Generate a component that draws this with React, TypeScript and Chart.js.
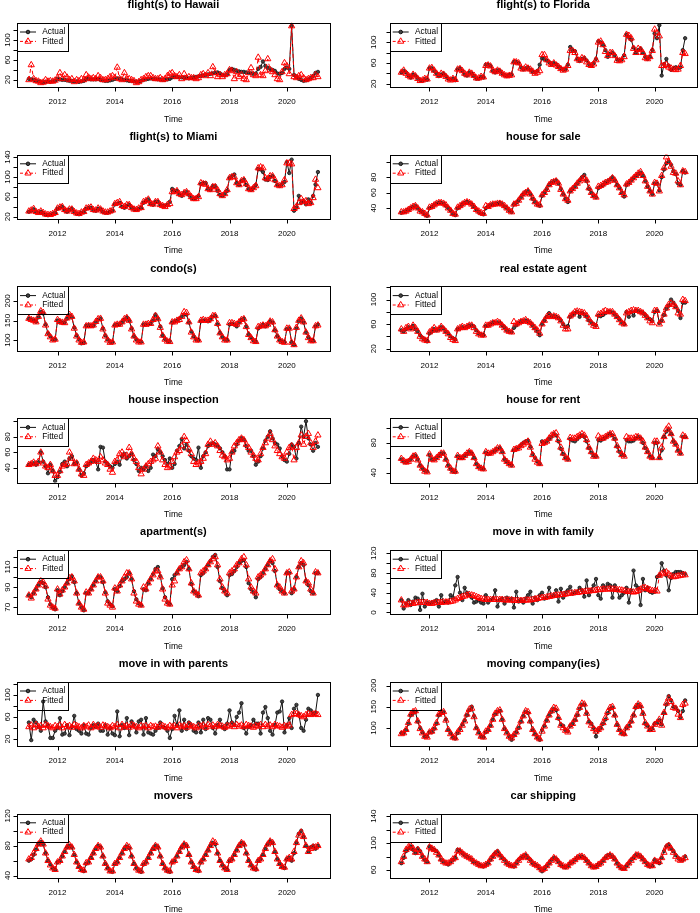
import React, { useEffect, useRef } from "react";
import { Chart, registerables } from "chart.js";
Chart.register(...registerables);

const FONT = '"Liberation Sans", Arial, Helvetica, sans-serif';

// monthly time index: Jan 2011 .. Feb 2021
const months: number[] = Array.from({ length: 122 }, (_, i) => 2011 + i / 12);
const xTicks = [2012, 2014, 2016, 2018, 2020];
const X_MIN = 2010.597;
const X_MAX = 2021.487;

const hawaiiActual = [
  22,21,20,18,17,16,15,16,17,16,17,18,
  22,21,20,20,19,18,18,17,17,16,17,18,
  22,22,21,21,21,22,20,19,18,18,19,20,
  22,23,22,21,20,19,18,18,17,16,17,18,
  20,21,22,23,22,22,21,21,20,20,21,22,
  25,26,26,25,25,24,24,23,24,25,26,27,
  28,29,30,31,32,33,34,35,33,30,29,31,
  40,42,40,38,37,36,36,35,34,33,32,33,
  42,46,57,48,44,42,40,38,33,32,34,42,
  45,42,128,30,26,22,20,18,19,21,24,28,
  34,36];
const hawaiiFitted = [
  20,50,22,18,17,14,15,20,17,18,17,19,
  24,34,22,30,25,20,22,16,20,18,22,20,
  30,25,22,24,22,28,24,20,20,22,26,28,
  24,45,22,20,34,22,22,20,18,14,16,20,
  22,26,28,28,24,22,22,24,20,22,28,32,
  34,28,26,30,22,32,24,26,24,24,22,24,
  30,32,28,34,28,46,34,26,30,26,30,32,
  40,38,22,36,26,30,22,20,34,44,30,28,
  65,30,28,38,62,40,36,30,22,20,36,54,
  48,32,128,26,24,28,30,24,20,22,24,24,
  30,26];

const floridaActual = [
  42,45,42,36,32,38,36,31,27,26,29,28,
  50,50,45,40,35,38,40,35,30,28,30,27,
  48,50,45,38,36,42,40,35,30,30,33,32,
  57,57,55,45,42,46,45,40,37,35,37,38,
  62,62,60,52,48,50,51,47,43,42,45,57,
  69,68,65,62,58,60,58,53,50,47,48,57,
  91,85,83,68,64,68,70,65,58,55,60,68,
  102,100,95,85,72,78,80,75,67,65,67,75,
  115,110,105,90,80,85,88,80,72,68,72,85,
  117,108,133,36,58,68,55,47,50,52,50,52,
  85,108];
const floridaFitted = [
  42,46,40,36,33,38,35,30,26,27,30,29,
  50,51,46,40,36,40,38,34,29,27,30,28,
  48,49,45,40,37,42,40,36,31,31,34,33,
  55,56,54,46,43,46,44,40,37,35,36,37,
  62,62,60,50,48,52,50,48,44,40,42,45,
  76,76,66,60,57,60,56,53,49,46,48,55,
  84,84,80,68,65,70,68,62,57,55,58,66,
  100,102,95,82,74,80,80,74,65,64,66,72,
  115,113,108,88,80,88,86,80,70,68,72,84,
  125,118,112,55,55,57,52,50,48,47,48,55,
  80,78];

const miamiActual = [
  30,32,35,30,28,30,27,24,23,24,26,27,
  36,38,40,33,30,34,36,30,26,25,28,29,
  36,38,38,33,32,36,35,30,28,28,30,32,
  45,46,48,40,38,42,44,38,35,34,36,38,
  48,52,55,46,44,50,50,44,42,42,44,50,
  76,72,72,65,62,68,70,64,58,56,58,62,
  86,88,88,76,74,82,82,72,64,62,66,72,
  98,102,105,88,84,92,95,84,76,74,78,84,
  116,115,110,95,94,100,102,92,84,82,86,90,
  130,108,135,32,38,62,48,52,45,55,48,62,
  85,110];
const miamiFitted = [
  31,33,36,30,28,31,28,25,24,24,26,28,
  37,39,40,34,31,35,35,30,27,26,29,30,
  37,38,39,34,33,37,35,31,29,29,31,33,
  46,48,50,42,40,44,44,38,35,34,37,38,
  50,52,55,46,45,50,50,44,42,40,44,46,
  70,70,72,66,64,68,70,66,60,56,56,60,
  88,86,85,76,74,80,80,74,66,62,66,74,
  98,100,100,88,84,92,94,86,76,74,78,82,
  118,120,118,98,96,102,102,94,84,82,84,94,
  128,128,126,36,40,48,56,50,52,46,48,58,
  95,78];

const saleActual = [
  34,35,36,38,40,42,43,40,37,35,32,30,
  40,42,44,46,47,47,46,43,40,37,33,31,
  40,42,45,47,48,47,45,42,38,35,33,32,
  40,42,44,45,45,46,47,45,42,40,37,35,
  45,47,50,54,58,61,62,58,52,48,45,43,
  56,60,65,70,73,75,76,72,65,58,52,48,
  62,65,68,72,76,80,83,75,65,60,56,54,
  66,68,70,73,75,77,80,76,70,66,60,55,
  70,73,76,79,82,84,86,82,75,68,62,58,
  72,72,63,80,90,98,100,96,88,84,72,70,
  88,86];
const saleFitted = [
  35,35,36,38,40,42,43,40,36,35,33,31,
  41,42,44,46,47,47,46,44,40,37,33,32,
  41,43,45,47,48,47,45,42,38,36,34,33,
  43,42,44,45,45,46,46,45,43,40,37,35,
  45,46,50,54,58,60,62,58,53,48,45,44,
  57,60,64,70,73,74,75,72,64,58,52,50,
  62,65,68,72,75,78,79,76,66,60,56,54,
  68,69,71,73,74,76,79,76,70,66,60,57,
  71,73,76,79,82,85,87,82,75,68,62,58,
  73,72,62,82,92,106,100,94,86,85,75,70,
  88,87];

const condoActual = [
  155,153,150,147,158,172,168,140,118,110,102,102,
  150,148,145,145,155,163,158,132,112,102,92,93,
  137,138,136,137,145,152,155,130,112,102,95,95,
  138,140,140,145,152,158,150,130,110,102,97,96,
  140,140,140,142,150,165,155,135,112,103,98,97,
  145,148,150,155,160,165,165,145,122,110,102,100,
  148,150,150,148,152,160,162,140,118,108,102,100,
  140,142,140,135,145,152,155,135,115,107,100,96,
  130,135,140,135,140,148,145,125,110,100,97,95,
  128,130,95,88,130,148,155,145,120,108,100,98,
  135,140];
const condoFitted = [
  155,152,150,146,160,174,170,138,116,108,100,102,
  152,147,145,144,156,165,160,130,110,100,94,95,
  136,137,136,138,147,154,155,128,110,100,94,95,
  138,140,140,146,154,157,150,128,110,100,95,95,
  140,140,142,142,152,162,154,132,112,102,97,96,
  146,146,150,152,160,172,170,146,120,108,100,100,
  150,152,150,150,154,162,162,142,118,108,100,100,
  144,144,142,140,146,152,154,134,114,106,98,96,
  134,136,138,136,140,148,146,126,110,100,96,94,
  130,130,94,88,132,150,156,146,120,106,98,98,
  136,138];

const agentActual = [
  50,48,52,55,53,57,52,48,42,38,35,32,
  45,48,52,50,52,55,53,48,45,40,37,35,
  52,53,55,54,56,58,58,56,50,45,43,42,
  57,58,60,63,62,63,62,58,55,50,48,47,
  54,58,62,65,65,66,65,62,58,53,48,42,
  60,66,72,78,73,73,72,70,66,60,55,57,
  72,75,78,80,72,78,76,72,66,63,60,58,
  74,73,75,78,80,80,79,76,72,68,63,60,
  80,72,80,74,82,81,80,78,75,70,68,65,
  80,82,62,66,75,85,90,100,95,88,82,70,
  95,95];
const agentFitted = [
  52,48,54,56,52,58,54,48,40,36,34,33,
  47,50,54,50,52,56,52,48,44,38,35,33,
  52,54,56,54,56,58,58,54,48,44,42,42,
  58,58,60,62,62,64,62,58,54,50,48,47,
  64,60,62,64,65,67,64,62,58,54,50,45,
  60,66,72,74,72,73,72,70,65,58,52,52,
  73,76,80,81,80,79,78,74,68,62,58,56,
  76,77,80,82,80,80,80,76,72,67,62,60,
  78,80,82,83,82,82,80,78,74,70,65,62,
  82,82,60,66,76,86,92,94,92,88,78,76,
  100,98];

const inspectActual = [
  44,45,46,44,47,60,48,42,33,44,36,23,
  28,35,45,48,42,52,55,45,47,38,30,33,
  42,45,48,50,48,38,67,66,48,45,42,40,
  45,48,44,55,58,52,55,58,50,45,36,40,
  38,42,36,40,57,55,64,60,55,50,45,52,
  40,45,62,68,77,65,70,62,55,52,50,66,
  40,55,60,68,70,72,70,68,65,60,55,38,
  38,60,62,70,75,78,76,68,62,62,55,44,
  48,55,65,75,80,87,78,72,70,65,55,50,
  48,58,70,67,52,72,93,80,100,78,70,62,
  72,67];
const inspectFitted = [
  44,45,47,45,48,60,46,42,40,44,36,30,
  30,36,42,44,45,60,52,45,46,38,32,30,
  44,46,48,52,50,48,54,50,46,44,38,34,
  48,50,58,60,54,56,66,58,52,48,40,32,
  38,42,45,48,50,52,68,60,50,44,40,42,
  48,54,60,62,68,80,75,64,58,48,44,46,
  48,52,58,70,74,70,72,68,62,56,54,50,
  52,60,68,72,76,78,76,70,66,60,56,52,
  50,58,66,72,78,84,76,68,62,58,54,52,
  60,66,68,50,66,72,82,70,80,84,72,66,
  74,82];

const rentActual = [
  58,55,54,56,58,62,63,58,50,46,43,42,
  64,58,58,60,63,66,66,58,50,45,42,41,
  62,60,60,63,65,68,66,60,52,48,46,45,
  67,65,66,68,70,72,73,68,58,55,52,50,
  70,72,74,77,80,82,83,75,65,60,55,52,
  82,80,82,85,88,92,90,82,72,65,60,58,
  85,83,82,85,88,90,88,82,73,67,63,62,
  84,83,85,87,90,92,90,85,75,68,64,63,
  84,82,82,83,86,88,86,80,73,68,62,60,
  80,80,60,70,88,95,98,92,82,78,70,66,
  88,88];
const rentFitted = [
  59,56,54,55,58,62,63,57,50,46,42,41,
  65,58,57,60,63,66,66,58,50,46,42,42,
  63,60,60,63,66,68,66,60,52,48,46,45,
  68,66,66,68,70,73,73,68,58,55,52,50,
  71,72,73,76,78,80,82,74,64,58,54,52,
  79,80,82,86,90,92,93,84,74,66,60,58,
  87,86,86,88,90,92,90,84,74,68,62,62,
  89,86,86,88,90,92,92,86,76,70,64,62,
  88,86,86,86,88,88,86,82,74,68,62,60,
  82,82,60,74,88,98,102,92,82,78,70,66,
  90,88];

const apartActual = [
  82,80,84,88,92,95,94,90,80,73,70,68,
  87,82,86,90,94,98,101,95,84,74,70,67,
  84,84,88,92,96,100,100,95,85,76,73,71,
  88,86,91,96,98,100,104,98,86,78,74,72,
  88,87,94,98,103,108,110,101,89,80,75,73,
  98,102,104,108,110,112,115,108,93,86,84,81,
  102,104,108,112,116,120,122,110,96,89,86,82,
  102,103,106,110,114,116,117,110,94,88,85,80,
  98,100,104,108,112,116,114,106,92,88,86,84,
  104,104,84,88,100,110,114,112,96,92,86,84,
  104,104];
const apartFitted = [
  82,79,84,88,92,96,95,91,78,72,70,69,
  88,83,87,90,94,99,100,96,84,74,70,68,
  85,84,88,92,96,100,100,96,84,74,72,70,
  89,86,92,96,100,104,104,98,84,76,73,72,
  90,88,94,98,102,106,106,100,88,78,74,73,
  92,96,104,108,110,115,117,108,94,86,84,82,
  104,106,108,112,115,118,120,112,98,90,86,84,
  104,106,108,112,114,118,120,112,98,90,86,84,
  100,102,104,108,112,116,118,108,92,90,86,84,
  104,105,86,88,100,110,116,114,96,94,88,84,
  105,104];

const familyActual = [
  25,8,18,25,15,22,30,28,5,38,12,20,
  18,20,22,25,12,35,20,22,20,35,30,55,
  72,40,25,50,40,35,30,20,22,25,20,18,
  35,20,25,28,45,12,25,28,18,30,25,28,
  10,42,22,25,20,28,35,42,18,30,25,35,
  40,28,30,50,32,35,45,22,48,30,40,45,
  52,38,40,42,50,45,32,65,35,45,55,68,
  35,28,55,50,58,55,30,55,45,30,35,40,
  50,20,45,85,55,50,15,68,45,50,42,40,
  42,72,75,100,85,75,45,70,78,82,82,82,
  80,78];
const familyFitted = [
  25,15,15,17,18,18,19,20,20,20,20,20,
  18,18,19,20,20,20,21,21,21,22,23,25,
  28,30,32,33,35,36,35,34,32,30,28,27,
  26,26,26,26,26,26,26,26,25,25,25,25,
  24,24,24,24,24,25,25,25,26,27,28,29,
  30,30,31,32,33,34,35,35,36,36,37,38,
  39,39,40,40,41,42,42,43,43,44,44,45,
  46,46,47,47,47,48,47,47,46,46,45,44,
  43,42,42,41,42,44,47,50,50,48,46,44,
  44,43,75,78,80,82,78,74,72,73,74,75,
  76,76];

const parentsActual = [
  50,18,55,50,42,35,88,52,45,22,22,35,
  40,58,28,30,45,27,42,62,38,35,30,45,
  30,28,40,45,42,48,35,35,45,28,40,30,
  27,70,25,45,40,58,27,52,45,32,52,55,
  28,58,32,30,28,35,40,50,42,40,35,22,
  38,62,45,72,35,55,38,50,45,35,32,50,
  32,55,38,58,55,40,30,45,55,42,38,48,
  72,50,45,60,68,85,40,30,42,45,55,48,
  48,30,68,78,58,35,28,45,68,70,88,32,
  45,58,40,75,82,65,40,35,55,75,72,65,
  68,100];
const parentsFitted = [
  42,45,40,46,42,44,40,46,44,42,40,44,
  42,45,40,46,42,44,41,46,44,42,40,44,
  42,45,40,46,42,44,41,45,44,42,40,44,
  42,46,40,46,42,44,41,46,44,42,40,44,
  42,44,40,44,42,43,41,45,44,42,40,44,
  42,44,40,45,42,44,41,46,44,42,40,44,
  43,45,41,46,43,45,42,46,44,43,41,44,
  43,46,42,46,43,45,42,46,44,43,41,44,
  43,46,42,46,43,45,42,46,44,43,41,44,
  43,45,64,66,66,64,62,60,64,66,64,65,
  66,64];

const movingActual = [
  88,88,95,110,130,135,138,115,100,90,80,80,
  90,90,98,110,130,135,138,120,95,88,78,75,
  88,98,108,118,130,142,150,128,100,90,80,78,
  90,95,105,120,132,138,140,120,98,90,80,72,
  82,90,100,115,128,138,135,115,95,85,77,72,
  95,105,118,130,138,145,142,122,108,105,95,92,
  105,110,118,130,145,155,155,135,115,110,100,80,
  95,100,110,120,135,145,148,130,108,95,88,85,
  100,105,115,130,148,155,150,135,110,105,95,98,
  110,112,118,108,135,155,175,165,150,148,140,125,
  140,165];
const movingFitted = [
  86,88,96,112,132,138,140,116,98,88,80,78,
  90,92,100,112,132,136,138,118,96,86,78,76,
  90,96,106,116,132,144,146,126,100,88,80,78,
  92,96,106,120,134,140,142,120,98,88,80,76,
  84,90,102,116,128,140,138,116,96,86,78,74,
  92,104,118,130,140,148,146,124,106,100,94,90,
  104,110,120,132,148,158,156,134,114,106,98,92,
  96,100,112,124,138,148,150,130,108,96,88,86,
  100,106,116,130,150,156,152,134,112,104,96,96,
  108,112,120,106,136,158,170,162,148,146,132,124,
  155,158];

const moversActual = [
  60,62,68,75,82,85,82,70,60,55,50,48,
  58,60,66,72,78,80,78,68,58,52,48,46,
  56,58,64,70,76,80,78,66,56,50,46,45,
  56,58,64,70,76,79,77,66,56,50,47,45,
  55,58,64,70,76,80,78,66,56,50,46,45,
  58,60,66,72,78,82,80,68,58,52,48,46,
  58,62,68,74,80,84,82,70,60,54,50,48,
  60,62,68,74,80,84,82,70,60,54,50,48,
  60,62,68,76,82,86,84,72,62,56,52,50,
  62,64,60,70,84,96,100,92,80,72,78,80,
  76,80];
const moversFitted = [
  62,64,70,76,82,86,82,70,60,54,50,48,
  58,60,66,72,78,81,78,68,58,52,48,47,
  57,58,64,70,76,80,78,66,56,50,46,46,
  56,58,64,70,76,80,78,66,56,50,47,46,
  56,58,64,70,76,80,78,66,56,50,47,46,
  58,60,66,72,78,82,80,68,58,52,48,47,
  58,62,68,74,80,86,84,70,60,54,50,48,
  60,62,68,74,80,84,82,70,60,54,50,49,
  60,62,68,76,82,86,84,72,62,56,52,51,
  62,64,62,72,84,94,98,92,80,72,76,78,
  78,80];

const carActual = [
  70,78,88,92,95,90,85,92,88,80,75,72,
  95,92,90,88,82,75,72,70,68,72,75,78,
  90,88,85,82,80,78,75,72,70,68,66,65,
  68,70,75,80,85,88,82,78,75,70,68,66,
  65,70,75,78,80,82,78,75,70,68,66,62,
  58,62,66,70,75,78,76,72,68,65,64,66,
  70,72,75,78,80,80,78,74,70,66,64,65,
  68,70,74,78,82,82,80,76,70,65,62,62,
  66,70,75,78,82,82,80,76,72,68,65,66,
  75,72,70,78,88,95,98,92,88,82,78,75,
  75,80];
const carFitted = [
  72,80,90,94,96,92,86,90,86,80,76,72,
  94,92,90,86,82,76,72,70,70,72,76,78,
  88,88,85,82,80,78,76,72,70,68,66,66,
  68,70,76,80,84,86,82,78,74,70,68,66,
  66,70,74,78,80,82,78,74,70,68,66,63,
  60,62,66,70,74,78,76,72,68,66,64,66,
  70,72,75,78,80,80,78,74,70,66,64,65,
  68,70,74,78,80,82,80,76,70,66,63,62,
  66,70,74,78,82,82,80,76,72,68,66,66,
  74,72,72,78,86,94,96,92,86,80,76,74,
  76,78];

const titles = [
  "flight(s) to Hawaii", "flight(s) to Florida",
  "flight(s) to Miami", "house for sale",
  "condo(s)", "real estate agent",
  "house inspection", "house for rent",
  "apartment(s)", "move in with family",
  "move in with parents", "moving company(ies)",
  "movers", "car shipping",
];
const actuals = [hawaiiActual, floridaActual, miamiActual, saleActual, condoActual, agentActual, inspectActual, rentActual, apartActual, familyActual, parentsActual, movingActual, moversActual, carActual];
const fitteds = [hawaiiFitted, floridaFitted, miamiFitted, saleFitted, condoFitted, agentFitted, inspectFitted, rentFitted, apartFitted, familyFitted, parentsFitted, movingFitted, moversFitted, carFitted];
const yRanges: [number, number][] = [
  [5.3, 134.7], [13.6, 137.8],
  [15.4, 145.3], [26, 109.4],
  [73, 237], [16.7, 121.6],
  [21, 104], [27, 113],
  [63, 127], [-4, 127],
  [7, 124], [57, 209],
  [36.8, 123.2], [48, 144],
];
const yTickSets = [
  [20, 40, 60, 80, 100, 120], [20, 40, 60, 80, 100, 120],
  [20, 40, 60, 80, 100, 120, 140], [40, 60, 80, 100],
  [100, 150, 200], [20, 40, 60, 80, 100, 120],
  [40, 60, 80, 100], [40, 60, 80, 100],
  [70, 80, 90, 100, 110, 120], [0, 20, 40, 60, 80, 100, 120],
  [20, 40, 60, 80, 100, 120], [100, 150, 200],
  [40, 60, 80, 100, 120], [60, 80, 100, 120, 140],
];
const yLabelSets = [
  [20, 60, 100], [20, 60, 100],
  [20, 60, 100, 140], [40, 60, 80],
  [100, 150, 200], [20, 60, 100],
  [40, 60, 80], [40, 80],
  [70, 90, 110], [0, 40, 80, 120],
  [20, 60, 100], [100, 150, 200],
  [40, 80, 120], [60, 100, 140],
];

const PANEL_W = 350;
const CANVAS_H = 134;
const ROW_PITCH = 131.8;
const FIRST_BOX_TOP = 22.7;
const BOX_H = 64.5;
const TRI_R = 3.6;
const COLS = [
  { left: 17.3, right: 329.5, labelOff: 10 },
  { left: 40, right: 346.5, labelOff: 16 },
];

function Panel({ idx }: { idx: number }) {
  const ref = useRef<HTMLCanvasElement | null>(null);
  const row = Math.floor(idx / 2);
  const col = idx % 2;
  const boxTop = FIRST_BOX_TOP + row * ROW_PITCH;
  const canvasTop = Math.floor(boxTop - 30);
  const padTop = boxTop - canvasTop;
  const c = COLS[col];

  useEffect(() => {
    const title = titles[idx];
    const yTicks = yTickSets[idx];
    const yLabels = yLabelSets[idx];
    const frame = {
      id: "rframe" + idx,
      afterDraw(chart: any) {
        const ctx = chart.ctx as CanvasRenderingContext2D;
        const a = chart.chartArea;
        const xs = chart.scales.x;
        const ys = chart.scales.y;
        ctx.save();
        ctx.strokeStyle = "#000";
        ctx.fillStyle = "#000";
        ctx.lineWidth = 1;
        ctx.setLineDash([]);
        const L = Math.round(a.left) + 0.5, T = Math.round(a.top) + 0.5;
        const R = Math.round(a.right) + 0.5, B = Math.round(a.bottom) + 0.5;
        ctx.strokeRect(L, T, R - L, B - T);
        ctx.beginPath();
        xTicks.forEach((v) => {
          const px = Math.round(xs.getPixelForValue(v)) + 0.5;
          ctx.moveTo(px, B);
          ctx.lineTo(px, B + 4);
        });
        yTicks.forEach((v) => {
          const py = Math.round(ys.getPixelForValue(v)) + 0.5;
          ctx.moveTo(L, py);
          ctx.lineTo(L - 4, py);
        });
        ctx.stroke();
        ctx.textAlign = "center";
        ctx.textBaseline = "middle";
        ctx.font = `8px ${FONT}`;
        xTicks.forEach((v) => ctx.fillText(String(v), xs.getPixelForValue(v), a.bottom + 14.7));
        yLabels.forEach((v) => {
          ctx.save();
          ctx.translate(a.left - c.labelOff, ys.getPixelForValue(v));
          ctx.rotate(-Math.PI / 2);
          ctx.fillText(String(v), 0, 0);
          ctx.restore();
        });
        ctx.font = `8.5px ${FONT}`;
        ctx.fillText("Time", (a.left + a.right) / 2, a.bottom + 32);
        ctx.font = `bold 11px ${FONT}`;
        ctx.fillText(title, (a.left + a.right) / 2, a.top - 17.7);
        // legend
        const lw = 51, lh = 28;
        ctx.strokeRect(L, T, lw, lh);
        const y1 = a.top + 9.3, y2 = a.top + 18.7;
        const x0 = a.left + 2.7, x1 = a.left + 18.7, xm = a.left + 10.7;
        ctx.beginPath();
        ctx.strokeStyle = "#111";
        ctx.moveTo(x0, y1);
        ctx.lineTo(x1, y1);
        ctx.stroke();
        ctx.beginPath();
        ctx.arc(xm, y1, 1.8, 0, Math.PI * 2);
        ctx.fillStyle = "#444";
        ctx.fill();
        ctx.stroke();
        ctx.strokeStyle = "#ff0000";
        ctx.setLineDash([3, 2]);
        ctx.beginPath();
        ctx.moveTo(x0, y2);
        ctx.lineTo(x1, y2);
        ctx.stroke();
        ctx.setLineDash([]);
        const r = TRI_R;
        ctx.beginPath();
        ctx.moveTo(xm, y2 - r);
        ctx.lineTo(xm - r * 0.866, y2 + r * 0.5);
        ctx.lineTo(xm + r * 0.866, y2 + r * 0.5);
        ctx.closePath();
        ctx.stroke();
        ctx.fillStyle = "#000";
        ctx.textAlign = "left";
        ctx.font = `8.3px ${FONT}`;
        ctx.fillText("Actual", a.left + 25, y1);
        ctx.fillText("Fitted", a.left + 25, y2);
        ctx.restore();
      },
    };

    const chart = new Chart(ref.current as HTMLCanvasElement, {
      type: "line",
      data: {
        datasets: [
          {
            label: "Fitted",
            data: months.map((x, i) => ({ x, y: fitteds[idx][i] })),
            order: 0,
            borderColor: "#ff0000",
            borderWidth: 1,
            borderDash: [4, 3],
            pointStyle: "triangle",
            pointRadius: TRI_R,
            pointBorderWidth: 1,
            pointBorderColor: "#ff0000",
            pointBackgroundColor: "rgba(255,255,255,0)",
            tension: 0,
            fill: false,
          },
          {
            label: "Actual",
            data: months.map((x, i) => ({ x, y: actuals[idx][i] })),
            order: 1,
            borderColor: "#111",
            borderWidth: 1,
            pointStyle: "circle",
            pointRadius: 1.7,
            pointBorderWidth: 0.8,
            pointBorderColor: "#111",
            pointBackgroundColor: "#444",
            tension: 0,
            fill: false,
          },
        ],
      },
      options: {
        animation: false,
        responsive: false,
        devicePixelRatio: 1,
        events: [],
        layout: {
          autoPadding: false,
          padding: { top: padTop, right: PANEL_W - c.right, left: 0, bottom: 0 },
        },
        plugins: {
          legend: { display: false },
          tooltip: { enabled: false },
          title: { display: false },
        },
        scales: {
          x: {
            type: "linear",
            min: X_MIN,
            max: X_MAX,
            grid: { display: false },
            border: { display: false },
            ticks: { display: false },
            afterBuildTicks: (s: any) => {
              s.ticks = xTicks.map((v) => ({ value: v }));
            },
            afterFit: (s: any) => {
              s.height = CANVAS_H - padTop - BOX_H;
            },
          },
          y: {
            type: "linear",
            min: yRanges[idx][0],
            max: yRanges[idx][1],
            grid: { display: false },
            border: { display: false },
            ticks: { display: false },
            afterBuildTicks: (s: any) => {
              s.ticks = yTicks.map((v) => ({ value: v }));
            },
            afterFit: (s: any) => {
              s.width = c.left;
            },
          },
        },
      } as any,
      plugins: [frame],
    });
    return () => chart.destroy();
  }, []);

  return (
    <canvas
      ref={ref}
      width={PANEL_W}
      height={CANVAS_H}
      style={{ position: "absolute", left: col * PANEL_W, top: canvasTop, width: PANEL_W, height: CANVAS_H }}
    />
  );
}

export default function App() {
  return (
    <div
      style={{
        position: "absolute",
        left: 0,
        top: 0,
        width: 700,
        height: 913,
        overflow: "hidden",
        background: "#fff",
      }}
    >
      {titles.map((_, i) => (
        <Panel key={i} idx={i} />
      ))}
    </div>
  );
}
